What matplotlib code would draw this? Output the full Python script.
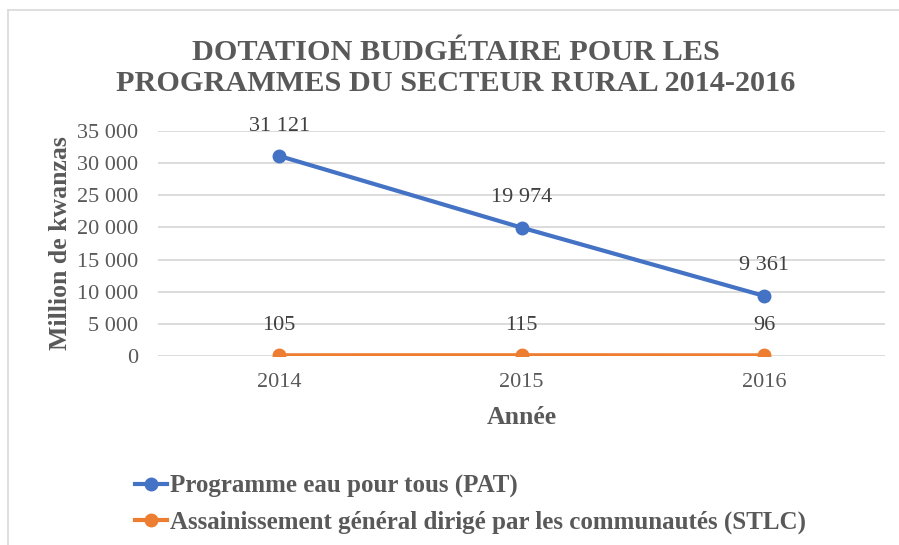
import matplotlib.pyplot as plt
from matplotlib.lines import Line2D
from matplotlib.ticker import FuncFormatter

# data
annees = ["2014", "2015", "2016"]
pat = [31121, 19974, 9361]
stlc = [105, 115, 96]
series_names = ["Programme eau pour tous (PAT)",
                "Assainissement général dirigé par les communautés (STLC)"]

plt.rcParams['font.family'] = ['Liberation Serif', 'DejaVu Serif']
gris = '#595959'

fig = plt.figure(figsize=(8.99, 5.45), dpi=100)
ax = fig.add_axes([0.1758, 0.3468, 0.8087, 0.4128])

x = list(range(len(annees)))
ax.plot(x, pat, color='#4472C4', lw=3, marker='o', ms=9, label=series_names[0])
ax.plot(x, stlc, color='#ED7D31', lw=3, marker='o', ms=9, label=series_names[1])

# data labels
for vals in (pat, stlc):
    for xi, v in zip(x, vals):
        ax.annotate(f"{v:,}".replace(",", " "), (xi, v), xytext=(0, 21.5),
                    textcoords='offset points', ha='center', va='center',
                    fontsize=16, color='#404040')

ax.set_xlim(-0.5, 2.5)
ax.set_ylim(0, 35000)
ax.set_yticks(range(0, 35001, 5000))
ax.yaxis.set_major_formatter(FuncFormatter(lambda v, p: f"{int(v):,}".replace(",", " ")))
ax.set_xticks(x)
ax.set_xticklabels(annees)
ax.grid(axis='y', color='#D9D9D9', lw=1.3)
ax.set_axisbelow(True)
for s in ax.spines.values():
    s.set_visible(False)
ax.tick_params(length=0, labelsize=16, colors=gris)
ax.tick_params(axis='x', pad=12)
ax.tick_params(axis='y', pad=14)

ax.set_ylabel("Million de kwanzas", fontsize=18.5, fontweight='bold', color=gris, labelpad=4)
ax.set_xlabel("Année", fontsize=18.5, fontweight='bold', color=gris, labelpad=10)

fig.text(0.507, 0.875, "DOTATION BUDGÉTAIRE POUR LES\nPROGRAMMES DU SECTEUR RURAL 2014-2016",
         ha='center', va='center', fontsize=21.8, fontweight='bold', color=gris,
         linespacing=1.2)

handles = [Line2D([], [], color='#4472C4', lw=3, marker='o', ms=9),
           Line2D([], [], color='#ED7D31', lw=3, marker='o', ms=9)]
fig.legend(handles, series_names, loc='center left', bbox_to_anchor=(0.125, 0.075),
           frameon=False, handlelength=1.3, handletextpad=0.1, labelspacing=0.5,
           prop={'size': 18, 'weight': 'bold'}, labelcolor=gris)

# chart frame (top and left edges visible)
fig.add_artist(Line2D([8 / 899, 8 / 899], [0, 1 - 10 / 545], color='#D9D9D9', lw=1.2))
fig.add_artist(Line2D([8 / 899, 1], [1 - 10 / 545, 1 - 10 / 545], color='#D9D9D9', lw=1.2))

fig.savefig("out.png", dpi=100)
